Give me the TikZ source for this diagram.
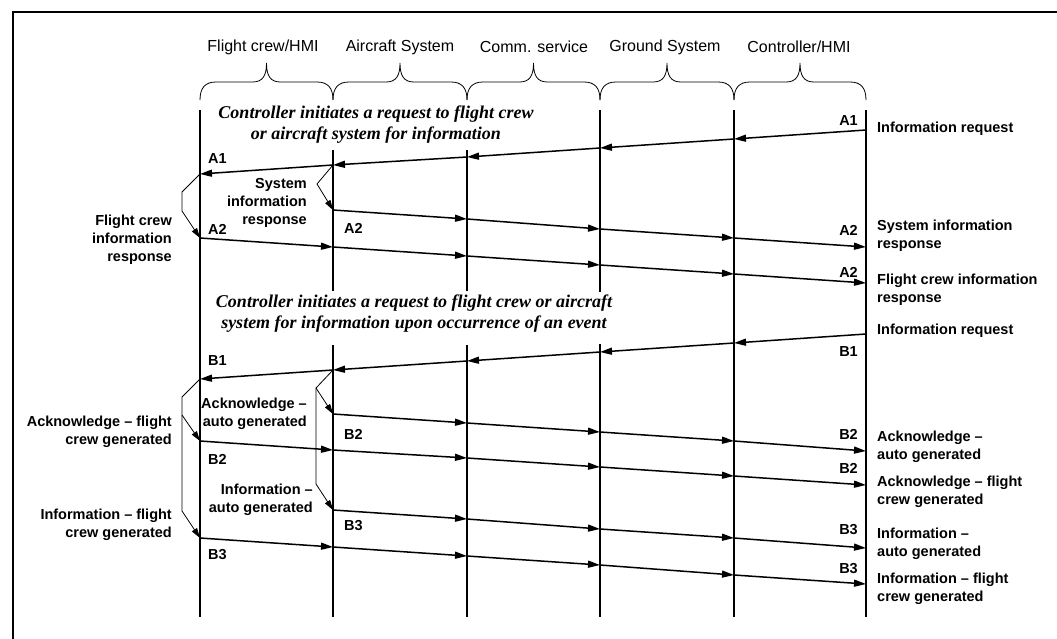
\documentclass[tikz,border=0pt]{standalone}
\usepackage{fontspec}
\setmainfont{Liberation Sans}
\newfontfamily\capfont{Liberation Serif}
\usetikzlibrary{arrows.meta}

\tikzset{
  life/.style={line width=1.6pt},
  msg/.style={line width=1.5pt, -{Triangle[length=12pt,width=7pt]}},
  thinline/.style={line width=0.8pt},
  thinarrow/.style={line width=0.8pt, -{Triangle[length=10pt,width=6pt]}},
  bracestyle/.style={line width=0.8pt},
  frame/.style={line width=2pt},
  hdr/.style={font=\fontsize{16}{19}\selectfont, inner sep=0pt},
  lbl/.style={font=\fontsize{14.5}{18}\selectfont\bfseries, inner sep=0pt},
  lblr/.style={lbl, align=right, anchor=east},
  lbll/.style={lbl, align=left, anchor=west},
  captext/.style={font=\capfont\fontsize{18}{21}\selectfont\bfseries\itshape, inner sep=0pt, align=center},
}

\begin{document}
\begin{tikzpicture}[x=1pt,y=-1pt]
\useasboundingbox (0,0) rectangle (1057,638);

% partial outer frame
\draw[frame] (13,640) -- (13,12) -- (1060,12);

% column headers
\node[hdr] (h1) at (263,47) {Flight crew/HMI};
\node[hdr] (h2) at (400,47) {Aircraft System};
\node[hdr] (h3) at (534,47) {Comm. service};
\node[hdr] (h4) at (665,47) {Ground System};
\node[hdr] (h5) at (799,47) {Controller/HMI};

% braces under the headers
\foreach \xa/\xb in {200/333,333/467,467/600,600/734,734/866}{
  \pgfmathsetmacro{\m}{(\xa+\xb)/2}
  \draw[bracestyle] (\xa,100) .. controls (\xa,88) and (\xa+5,82) .. (\xa+16,82)
    -- (\m-14,82) .. controls (\m-4,82) and (\m,76) .. (\m,63)
    .. controls (\m,76) and (\m+4,82) .. (\m+14,82)
    -- (\xb-16,82) .. controls (\xb-5,82) and (\xb,88) .. (\xb,100);
}

% lifelines
\coordinate (l1t) at (200,110); \coordinate (l1b) at (200,617);
\coordinate (l2t) at (333,150); \coordinate (l2m) at (333,291);
\coordinate (l2n) at (333,345); \coordinate (l2b) at (333,617);
\coordinate (l3t) at (467,150); \coordinate (l3m) at (467,291);
\coordinate (l3n) at (467,345); \coordinate (l3b) at (467,617);
\coordinate (l4t) at (600,110); \coordinate (l4m) at (600,292);
\coordinate (l4n) at (600,344); \coordinate (l4b) at (600,617);
\coordinate (l5t) at (734,110); \coordinate (l5b) at (734,617);
\coordinate (l6t) at (866,110); \coordinate (l6b) at (866,617);
\draw[life] (l1t) -- (l1b);
\draw[life] (l2t) -- (l2m) (l2n) -- (l2b);
\draw[life] (l3t) -- (l3m) (l3n) -- (l3b);
\draw[life] (l4t) -- (l4m) (l4n) -- (l4b);
\draw[life] (l5t) -- (l5b);
\draw[life] (l6t) -- (l6b);

% captions
\node[captext] (capa) at (376,124.5) {Controller initiates a request to flight crew\\or aircraft system for information};
\node[captext] (capb) at (414,313.5) {Controller initiates a request to flight crew or aircraft\\system for information upon occurrence of an event};

% message points on the lifelines
\foreach \i/\x/\y in {6/866/130,5/734/139,4/600/148,3/467/157,2/333/165,1/200/174}
  \coordinate (a1-\i) at (\x,\y);
\foreach \i/\x/\y in {2/333/210,3/467/219,4/600/229,5/734/238,6/866/247}
  \coordinate (as-\i) at (\x,\y);
\foreach \i/\x/\y in {1/200/238,2/333/247,3/467/256,4/600/265,5/734/274,6/866/283}
  \coordinate (af-\i) at (\x,\y);
\foreach \i/\x/\y in {6/866/334,5/734/343,4/600/352,3/467/361,2/333/370,1/200/379}
  \coordinate (b1-\i) at (\x,\y);
\foreach \i/\x/\y in {2/333/414,3/467/423,4/600/432,5/734/441,6/866/451}
  \coordinate (bs2-\i) at (\x,\y);
\foreach \i/\x/\y in {1/200/441,2/333/450,3/467/458,4/600/467,5/734/476,6/866/485}
  \coordinate (bf2-\i) at (\x,\y);
\foreach \i/\x/\y in {2/333/510,3/467/519,4/600/529,5/734/538,6/866/548}
  \coordinate (bs3-\i) at (\x,\y);
\foreach \i/\x/\y in {1/200/538,2/333/547,3/467/556,4/600/565,5/734/575,6/866/584}
  \coordinate (bf3-\i) at (\x,\y);

% messages, one arrow per hop
\foreach \i/\j in {6/5,5/4,4/3,3/2,2/1}{
  \draw[msg] (a1-\i) -- (a1-\j);
  \draw[msg] (b1-\i) -- (b1-\j);
}
\foreach \i/\j in {2/3,3/4,4/5,5/6}{
  \draw[msg] (as-\i) -- (as-\j);
  \draw[msg] (bs2-\i) -- (bs2-\j);
  \draw[msg] (bs3-\i) -- (bs3-\j);
}
\foreach \i/\j in {1/2,2/3,3/4,4/5,5/6}{
  \draw[msg] (af-\i) -- (af-\j);
  \draw[msg] (bf2-\i) -- (bf2-\j);
  \draw[msg] (bf3-\i) -- (bf3-\j);
}

% response brackets
\coordinate (ka1) at (182,192); \coordinate (ka2) at (182,211);
\draw[thinline] (a1-1) -- (ka1) -- (ka2);
\draw[thinarrow] (ka2) -- (af-1);
\coordinate (ksa) at (317,184);
\draw[thinline] (a1-2) -- (ksa);
\draw[thinarrow] (ksa) -- (as-2);

\coordinate (kb1) at (182,397); \coordinate (kb2) at (182,415); \coordinate (kb3) at (182,511);
\draw[thinline] (b1-1) -- (kb1) -- (kb3);
\draw[thinarrow] (kb2) -- (bf2-1);
\draw[thinarrow] (kb3) -- (bf3-1);
\coordinate (ksb1) at (316,388); \coordinate (ksb2) at (316,484);
\draw[thinline] (b1-2) -- (ksb1) -- (ksb2);
\draw[thinarrow] (ksb1) -- (bs2-2);
\draw[thinarrow] (ksb2) -- (bs3-2);

% message tags
\node[lbl, anchor=east] (ta1r) at (858,121) {A1};
\node[lbl, anchor=west] (ta1l) at (208,159) {A1};
\node[lbl, anchor=west] (ta2l) at (208,229) {A2};
\node[lbl, anchor=west] (ta2m) at (344,228) {A2};
\node[lbl, anchor=east] (ta2r) at (858,230) {A2};
\node[lbl, anchor=east] (ta2s) at (858,272) {A2};
\node[lbl, anchor=east] (tb1r) at (858,352) {B1};
\node[lbl, anchor=west] (tb1l) at (208,361) {B1};
\node[lbl, anchor=west] (tb2m) at (344,434) {B2};
\node[lbl, anchor=west] (tb2l) at (208,459) {B2};
\node[lbl, anchor=east] (tb2r) at (858,434) {B2};
\node[lbl, anchor=east] (tb2s) at (858,468) {B2};
\node[lbl, anchor=west] (tb3m) at (344,526) {B3};
\node[lbl, anchor=west] (tb3l) at (208,555) {B3};
\node[lbl, anchor=east] (tb3r) at (858,530) {B3};
\node[lbl, anchor=east] (tb3s) at (858,569) {B3};

% right-hand descriptions
\node[lbll] (r1) at (877,129) {Information request};
\node[lbll] (r2) at (877,236) {System information\\response};
\node[lbll] (r3) at (877,290) {Flight crew information\\response};
\node[lbll] (r4) at (877,331) {Information request};
\node[lbll] (r5) at (877,447) {Acknowledge –\\auto generated};
\node[lbll] (r6) at (877,492) {Acknowledge – flight\\crew generated};
\node[lbll] (r7) at (877,544) {Information –\\auto generated};
\node[lbll] (r8) at (877,589) {Information – flight\\crew generated};

% left-hand descriptions
\node[lblr] (p1) at (172,240) {Flight crew\\information\\response};
\node[lblr] (p2) at (307,203) {System\\information\\response};
\node[lblr] (p3) at (172,432) {Acknowledge – flight\\crew generated};
\node[lblr] (p4) at (307,414) {Acknowledge –\\auto generated};
\node[lblr] (p5) at (172,525) {Information – flight\\crew generated};
\node[lblr] (p6) at (313,500) {Information –\\auto generated};
\end{tikzpicture}
\end{document}
